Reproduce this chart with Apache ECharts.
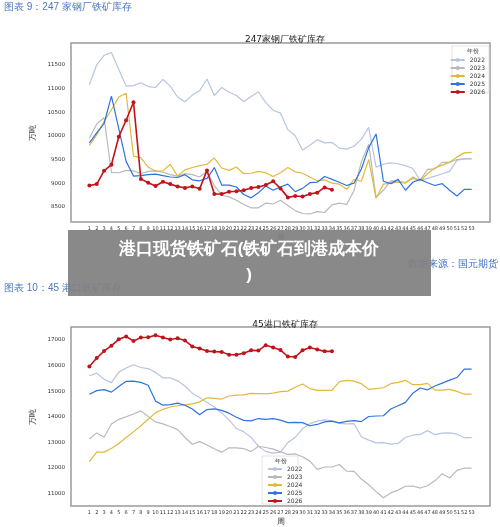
<!DOCTYPE html>
<html><head><meta charset="utf-8">
<script src="https://cdn.jsdelivr.net/npm/echarts@6/dist/echarts.min.js"></script>
<style>html,body{margin:0;padding:0;background:#fff}#c{width:500px;height:527px}</style>
</head><body><div id="c"></div>
<script>
const weeks = Array.from({length:53},(_,i)=>String(i+1));
const years = ['2022','2023','2024','2025','2026'];
const colors = ['#b7c5e2','#b9b9b9','#e2b93b','#2f72e0','#c0141c'];

const mill2022 = [11080,11500,11700,11760,11400,11050,11060,11120,11040,11020,11190,11050,10820,10720,10860,10950,11200,10850,11020,10920,10850,10720,10830,10930,10700,10540,10480,10130,10000,9700,9800,9920,9850,9860,9740,9720,9780,9930,10180,9340,9400,9430,9410,9370,9310,9060,9100,9150,9200,9250,9480,9520,9520];
const mill2023 = [9950,10250,10380,9230,9220,9270,9260,9200,9250,9260,9230,9180,9150,9200,9180,9130,9250,8950,8750,8710,8640,8550,8480,8480,8580,8560,8640,8530,8420,8360,8350,8400,8380,8540,8580,8550,8840,9450,9820,8700,8850,9050,9040,9020,9100,9060,9290,9300,9440,9440,9500,9510,9510];
const mill2024 = [9800,10020,10300,10550,10820,10900,9570,9540,9340,9250,9260,9400,9150,9280,9330,9370,9400,9530,9320,9270,9340,9200,9210,9250,9220,9140,9220,9330,9240,9210,9130,9050,9070,9000,8980,8870,9080,9040,9500,8680,8980,9000,9020,9000,9130,9050,9200,9320,9380,9440,9550,9640,9650];
const mill2025 = [9850,10060,10260,10840,10150,9460,9150,9160,9180,9190,9160,9130,9120,9180,9070,9050,9100,9330,8960,8960,8920,8760,8690,8800,8940,8850,8920,8980,8820,8890,9010,9020,9140,9080,9020,8950,9000,9300,9750,10040,9040,8990,9080,8850,9020,9080,9010,8950,8990,8850,8730,8870,8870];
const mill2026 = [8950,8980,9260,9390,9980,10330,10710,9090,9010,8940,9030,8980,8930,8900,8930,8880,9270,8770,8770,8820,8830,8850,8900,8920,8960,9040,8890,8700,8730,8720,8770,8800,8910,8860];

const port2022 = [15600,15700,15460,15330,15740,15900,16030,15920,15880,15730,15520,15520,15400,15200,14920,14750,14560,14380,14150,13880,13540,13410,13200,12850,12650,12580,12620,12990,13200,13530,13730,13830,13880,13840,13740,13720,13730,13220,13090,12980,12990,12930,12960,13200,13280,13310,13460,13300,13360,13370,13320,13190,13190];
const port2023 = [13130,13370,13200,13720,13900,14000,14110,14230,14010,13800,13720,13620,13500,13200,12930,13030,12900,12750,12620,12790,12790,12760,12640,12850,12800,12740,12630,12530,12550,12440,12270,11950,12040,12040,12140,11880,11870,11570,11350,11080,10840,11030,11140,11290,11300,11220,11310,11500,11780,11610,11910,12000,12000];
const port2024 = [12250,12620,12620,12760,12960,13190,13410,13650,13900,14150,14290,14380,14430,14460,14500,14580,14740,14720,14690,14810,14840,14850,14910,14900,14890,14920,14980,15000,15150,15280,15100,15030,15030,15030,15370,15420,15390,15290,15070,15100,15130,15290,15340,15420,15250,15250,15300,15040,15040,15070,14990,14880,14880];
const port2025 = [14880,15020,15060,14960,15180,15380,15390,15340,15230,14610,14450,14470,14530,14450,14300,14080,14280,14310,14250,14140,13980,13860,13840,13930,13900,13930,13870,13770,13780,13770,13650,13700,13800,13830,13760,13820,13850,13810,14010,14030,14040,14300,14430,14560,14920,15120,15050,15200,15310,15430,15530,15860,15860];
const port2026 = [15960,16290,16560,16770,17020,17130,16950,17090,17100,17180,17090,17010,17060,16970,16740,16660,16560,16540,16530,16420,16420,16480,16590,16580,16790,16700,16600,16350,16330,16590,16700,16620,16550,16550];

const millTicks = [8500,9000,9500,10000,10500,11000,11500];
const portTicks = [11000,12000,13000,14000,15000,16000,17000];

const cats = [' ','  '].concat(weeks,['   ','    ']);
const pad = a => [null,null].concat(a);
const FONT = 'DejaVu Sans';

function xAx(gi){return {type:'category',gridIndex:gi,data:cats,boundaryGap:true,
  name:'周',nameLocation:'middle',nameGap:12,nameTextStyle:{fontSize:8,color:'#333'},
  axisLine:{show:false},axisTick:{show:false},
  axisLabel:{interval:0,fontSize:5,color:'#333',margin:4,fontFamily:FONT}};}
function yAx(gi,min,max,ticks){return {type:'value',gridIndex:gi,min:min,max:max,interval:20,
  name:'万吨',nameLocation:'middle',nameGap:28,nameRotate:90,nameTextStyle:{fontSize:8,color:'#333'},
  axisLine:{show:false},axisTick:{show:false},splitLine:{show:false},
  axisLabel:{fontSize:5.5,color:'#333',margin:6,fontFamily:FONT,showMinLabel:true,showMaxLabel:true,
    formatter:v=>ticks.indexOf(Math.round(v))>=0?String(Math.round(v)):''}};}

const millData=[mill2022,mill2023,mill2024,mill2025,mill2026];
const portData=[port2022,port2023,port2024,port2025,port2026];
const series=[];
[millData,portData].forEach((set,gi)=>{
  set.forEach((d,k)=>{
    const red=k===4;
    series.push({name:years[k],type:'line',xAxisIndex:gi,yAxisIndex:gi,data:pad(d),
      color:colors[k],lineStyle:{width:red?1.6:1.2,color:colors[k]},
      showSymbol:red,symbol:'circle',symbolSize:red?4:0,itemStyle:{color:colors[k]},
      z:red?5:(k===3?4:2),animation:false});
  });
});

const chart=echarts.init(document.getElementById('c'));
chart.setOption({
  animation:false,
  textStyle:{fontFamily:FONT},
  title:[
    {text:'247家钢厂铁矿库存',left:280,top:30,textAlign:'center',textStyle:{fontSize:9,fontWeight:'normal',color:'#222'}},
    {text:'45港口铁矿库存',left:280,top:315,textAlign:'center',textStyle:{fontSize:9,fontWeight:'normal',color:'#222'}}
  ],
  grid:[
    {left:71,right:10,top:43,height:179,show:true,borderColor:'#9a9a9a',borderWidth:1.5,backgroundColor:'#fff'},
    {left:71,right:10,top:327,height:179,show:true,borderColor:'#9a9a9a',borderWidth:1.5,backgroundColor:'#fff'}
  ],
  xAxis:[xAx(0),xAx(1)],
  yAxis:[yAx(0,8180,11960,millTicks),yAx(1,10520,17500,portTicks)],
  legend:[
    {data:years,orient:'vertical',right:12,top:55,itemWidth:14,itemHeight:5,itemGap:2,
     textStyle:{fontSize:6,color:'#333'},padding:[2,3]},
    {data:years,orient:'vertical',left:264,top:464,itemWidth:14,itemHeight:5,itemGap:2,
     textStyle:{fontSize:6,color:'#333'},padding:[2,3]}
  ],
  graphic:[
    {type:'rect',shape:{x:452,y:46,width:37,height:46},style:{fill:'#fff',stroke:'#ddd',lineWidth:0.8},z:1},
    {type:'text',left:467,top:48,style:{text:'年份',fontSize:6,fill:'#333'},z:10},
    {type:'rect',shape:{x:262,y:456,width:36,height:48},style:{fill:'#fff',stroke:'#ddd',lineWidth:0.8},z:1},
    {type:'text',left:275,top:458,style:{text:'年份',fontSize:6,fill:'#333'},z:10},
    {type:'text',left:4,top:2,style:{text:'图表 9：247 家钢厂铁矿库存',fontSize:10,fill:'#4a78c2'}},
    {type:'text',left:4,top:283,style:{text:'图表 10：45 港口铁矿库存',fontSize:10,fill:'#4a78c2'}},
    {type:'text',right:2,top:259,style:{text:'数据来源：国元期货',fontSize:10,fill:'#3f6fbf'}},
    {type:'rect',shape:{x:68,y:230,width:363,height:66},style:{fill:'rgba(128,128,128,0.93)'},z:100},
    {type:'text',x:249,y:236,style:{text:'港口现货铁矿石(铁矿石到港成本价\n)',fontSize:17,fontWeight:'bold',fill:'#fff',align:'center',lineHeight:26},z:101}
  ],
  series:series
});
</script></body></html>
